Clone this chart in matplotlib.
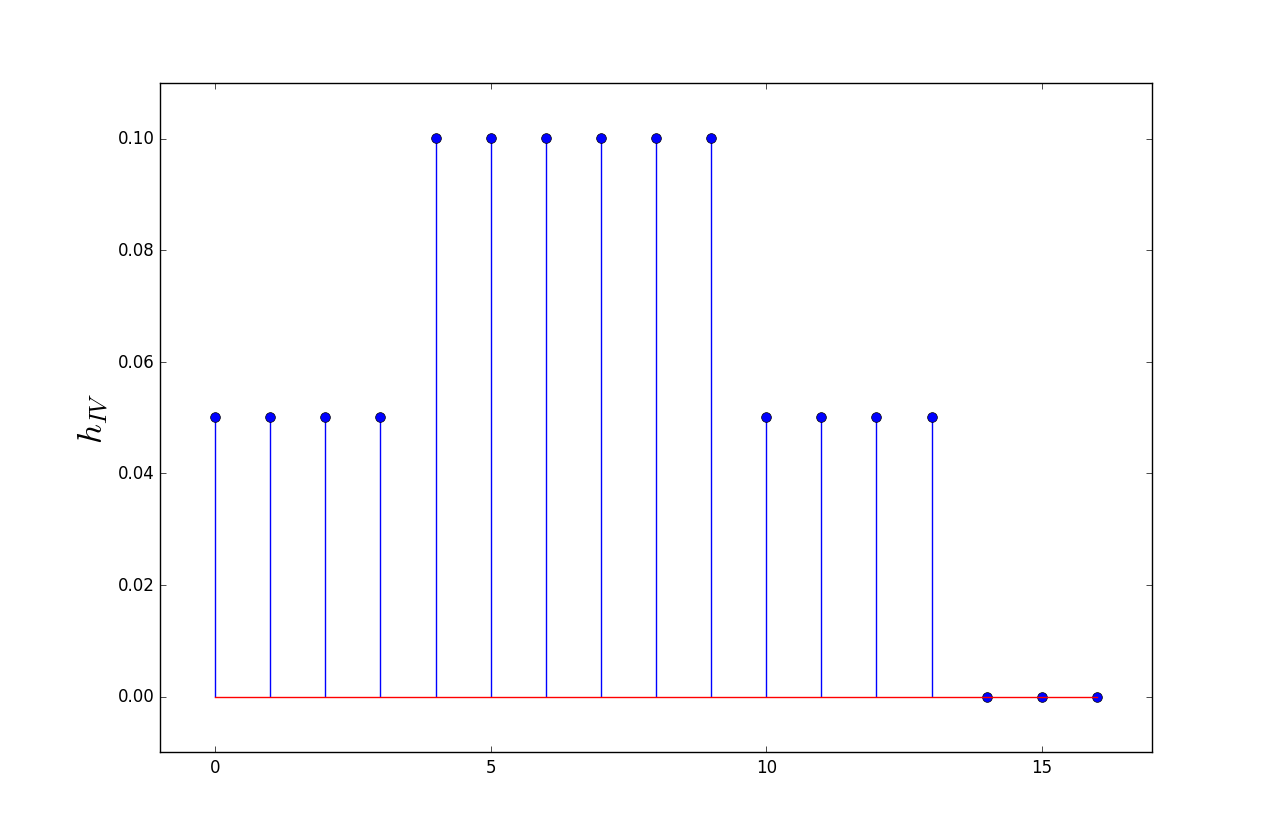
import numpy as np
import matplotlib
matplotlib.use('Agg')
import matplotlib.pyplot as plt

plt.style.use('classic')

# filter taps
n = list(range(17))
h_iv = [0.05, 0.05, 0.05, 0.05,
        0.1, 0.1, 0.1, 0.1, 0.1, 0.1,
        0.05, 0.05, 0.05, 0.05,
        0.0, 0.0, 0.0]

fig = plt.figure(figsize=(12.8, 8.37), dpi=100)
ax = fig.add_subplot(111)
markerline, stemlines, baseline = ax.stem(n, h_iv, linefmt='b-', markerfmt='bo', basefmt='r-')
plt.setp(markerline, markersize=7)
ax.set_xlim(-1, 17)
ax.set_ylim(-0.01, 0.11)
ax.set_ylabel(r'$h_{IV}$', fontsize=25)

fig.savefig('out.png', dpi=100)
